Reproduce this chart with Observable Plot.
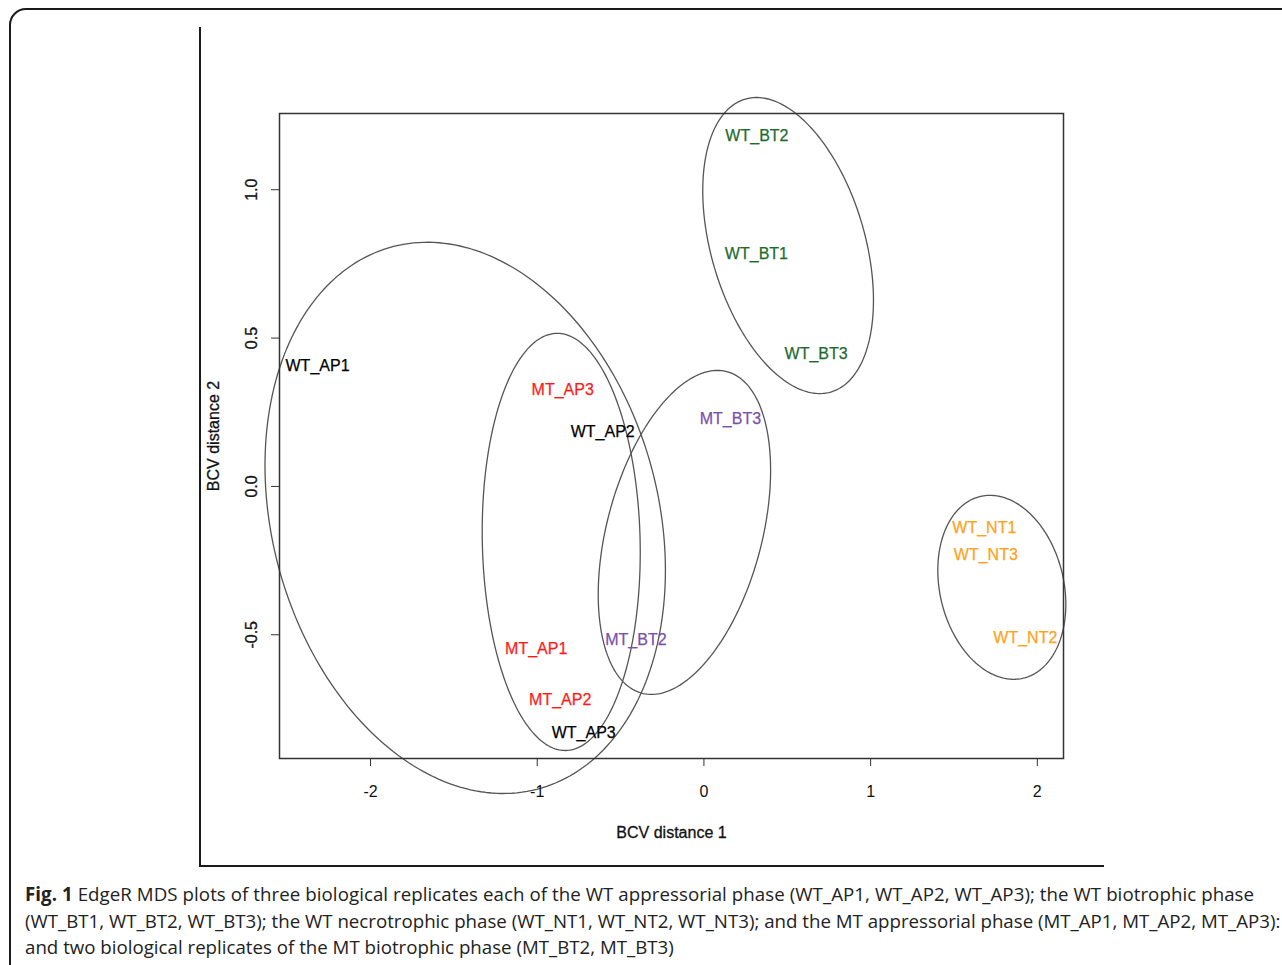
<!DOCTYPE html>
<html>
<head>
<meta charset="utf-8">
<script src="https://cdn.jsdelivr.net/npm/d3@7"></script>
<script src="https://cdn.jsdelivr.net/npm/@observablehq/plot@0.6"></script>
<style>
  html, body { margin: 0; padding: 0; background: #fff; overflow: hidden; width: 1282px; height: 965px; }
  #page { position: relative; width: 1282px; height: 965px; }
  #frame { position: absolute; left: 9px; top: 8px; width: 1300px; height: 1000px; border: 2px solid #1a1a1a; border-radius: 17px; box-sizing: border-box; }
  #lline { position: absolute; left: 199px; top: 27px; width: 905px; height: 840px; border-left: 2.4px solid #1a1a1a; border-bottom: 2.4px solid #1a1a1a; box-sizing: border-box; }
  #chart { position: absolute; left: 0; top: 0; }
  #caption { position: absolute; left: 25px; top: 881px; font-family: "Open Sans", "Noto Sans", sans-serif; font-size: 18.7px; line-height: 26.6px; color: #222; white-space: nowrap; }
  #caption div:first-child { letter-spacing: 0.06px; }
  #caption b { font-weight: 700; }
</style>
</head>
<body>
<div id="page">
  <div id="frame"></div>
  <div id="lline"></div>
  <div id="chart"></div>
  <div id="caption">
    <div><b>Fig. 1</b> EdgeR MDS plots of three biological replicates each of the WT appressorial phase (WT_AP1, WT_AP2, WT_AP3); the WT biotrophic phase</div>
    <div>(WT_BT1, WT_BT2, WT_BT3); the WT necrotrophic phase (WT_NT1, WT_NT2, WT_NT3); and the MT appressorial phase (MT_AP1, MT_AP2, MT_AP3):</div>
    <div>and two biological replicates of the MT biotrophic phase (MT_BT2, MT_BT3)</div>
  </div>
</div>
<script>
// ---- Data ----
const sampleLabels = ["WT_AP1","WT_AP2","WT_AP3","MT_AP1","MT_AP2","MT_AP3","WT_BT1","WT_BT2","WT_BT3","MT_BT2","MT_BT3","WT_NT1","WT_NT2","WT_NT3"];
const dim1 = [-2.318,-0.607,-0.721,-1.006,-0.862,-0.847,0.315,0.318,0.673,-0.408,0.159,1.682,1.928,1.691];
const dim2 = [0.408,0.185,-0.832,-0.549,-0.721,0.327,0.785,1.180,0.448,-0.516,0.229,-0.138,-0.509,-0.229];
const sampleGroup = ["WT_AP","WT_AP","WT_AP","MT_AP","MT_AP","MT_AP","WT_BT","WT_BT","WT_BT","MT_BT","MT_BT","WT_NT","WT_NT","WT_NT"];

const groupNames = ["WT_AP","MT_AP","WT_BT","MT_BT","WT_NT"];
const groupColors = ["#000000","#ff1a1a","#1d6b2c","#7b4fae","#ffa21a"];

// ellipses around groups: centre, half-extents (data units) and correlation
const ellipseGroup = ["WT_AP","MT_AP","MT_BT","WT_BT","WT_NT"];
const ellipseCx = [-1.432,-0.856,-0.117,0.505,1.787];
const ellipseCy = [-0.106,-0.187,-0.155,0.812,-0.340];
const ellipseRx = [1.201,0.474,0.517,0.512,0.384];
const ellipseRy = [0.929,0.703,0.546,0.499,0.310];
const ellipseRho = [-0.19,-0.05,0.383,-0.37,-0.185];

const xTicks = [-2,-1,0,1,2];
const yTicks = [-0.5,0.0,0.5,1.0];
const xDomain = [-2.546, 2.157];
const yDomain = [-0.917, 1.257];
const xTitle = "BCV distance 1";
const yTitle = "BCV distance 2";

// ---- Build tables ----
const colorOf = Object.fromEntries(groupNames.map((g,i)=>[g, groupColors[i]]));
const samples = sampleLabels.map((s,i)=>({label:s, x:dim1[i], y:dim2[i], color:colorOf[sampleGroup[i]]}));

const ellipsePts = [];
ellipseGroup.forEach((g,i)=>{
  const n = 240, r = ellipseRho[i], s = Math.sqrt(1 - r*r);
  for (let k = 0; k <= n; k++) {
    const t = 2*Math.PI*k/n;
    ellipsePts.push({
      id: g,
      x: ellipseCx[i] + ellipseRx[i]*Math.cos(t),
      y: ellipseCy[i] + ellipseRy[i]*(r*Math.cos(t) + s*Math.sin(t))
    });
  }
});

const txt = {fontSize: 16, fill: "#111", stroke: "#111", strokeWidth: 0.3};

const chart = Plot.plot({
  width: 1282,
  height: 880,
  marginLeft: 279,
  marginRight: 219,
  marginTop: 113,
  marginBottom: 122,
  x: {domain: xDomain},
  y: {domain: yDomain},
  color: {type: "identity"},
  style: {fontFamily: "'Liberation Sans', Arial, sans-serif", fontSize: "16px", background: "transparent", overflow: "visible", color: "#111"},
  marks: [
    Plot.line(ellipsePts, {x: "x", y: "y", z: "id", stroke: "#555", strokeWidth: 1.3}),
    Plot.frame({stroke: "#333", strokeWidth: 1.5}),
    Plot.axisX({ticks: xTicks, tickSize: 8, tickPadding: 19, tickFormat: d => String(d), label: null, stroke: "#333", fontSize: 16, fill: "#111"}),
    Plot.axisY({ticks: yTicks, tickSize: 8, tickFormat: () => "", label: null, stroke: "#333"}),
    Plot.text(yTicks, {y: d => d, frameAnchor: "left", textAnchor: "middle", dx: -27.5, rotate: -90, text: d => d.toFixed(1), ...txt}),
    Plot.text([xTitle], {frameAnchor: "bottom", textAnchor: "middle", dy: 79, text: d => d, ...txt}),
    Plot.text([yTitle], {frameAnchor: "left", textAnchor: "middle", dx: -65.5, rotate: -90, text: d => d, ...txt}),
    Plot.text(samples, {x: "x", y: "y", text: "label", fill: "color", stroke: "color", strokeWidth: 0.25, fontSize: 16})
  ]
});
document.getElementById("chart").appendChild(chart);
</script>
</body>
</html>
